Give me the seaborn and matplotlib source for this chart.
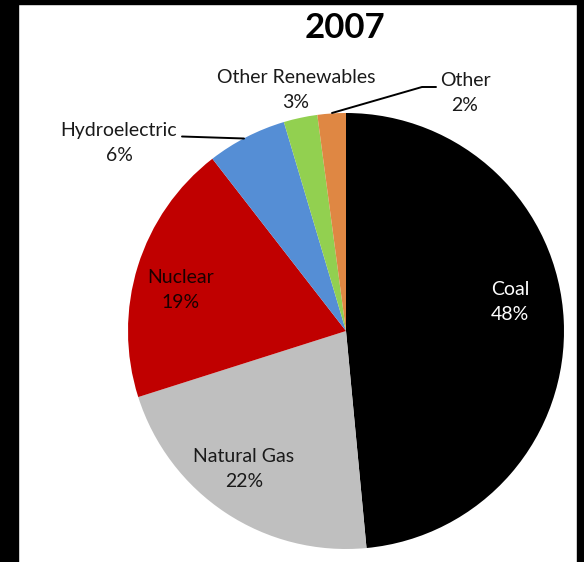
import matplotlib
matplotlib.use("Agg")
import matplotlib.pyplot as plt
from matplotlib.patches import Rectangle
import seaborn as sns

# ---- data ----
title = "2007"
categories = ["Coal", "Natural Gas", "Nuclear", "Hydroelectric", "Other Renewables", "Other"]
shares = [48.5, 21.6, 19.4, 5.9, 2.5, 2.1]
pct_labels = ["48%", "22%", "19%", "6%", "3%", "2%"]

# ---- style ----
sns.set_theme(style="white")
plt.rcParams["font.family"] = ["Lato", "DejaVu Sans"]

colors = ["#000000", "#BFBFBF", "#C00000", "#558ED5", "#92D050", "#DF8743"]
text_colors = ["white", "#1a1a1a", "#1a0000", "#1a1a1a", "#1a1a1a", "#1a1a1a"]

W, H = 584, 562
fig = plt.figure(figsize=(W / 100, H / 100), dpi=100)
fig.patch.set_facecolor("white")
ax = fig.add_axes([0, 0, 1, 1])

def Y(y):
    return H - y

cx, cy, r = 346, 331, 218
ax.pie(shares, colors=colors, startangle=90, counterclock=False,
       center=(cx, Y(cy)), radius=r, wedgeprops=dict(linewidth=0))
ax.set_xlim(0, W)
ax.set_ylim(0, H)
ax.set_aspect("auto")
ax.axis("off")

# label positions (pixel layout, y down)
label_pos = [(510, 302), (244, 469), (181, 290), (119, 143), (296, 90), (465, 93)]
for name, pct, (x, y), tc in zip(categories, pct_labels, label_pos, text_colors):
    ax.text(x, Y(y), f"{name}\n{pct}", ha="center", va="center", fontsize=14,
            color=tc, linespacing=1.55)

# leader lines
ax.plot([182, 244], [Y(136.5), Y(138.5)], color="black", lw=1.4)
ax.plot([332, 422, 436], [Y(113), Y(87), Y(87)], color="black", lw=1.4)

# title
ax.text(345, Y(28), title, ha="center", va="center", fontsize=25, fontweight="bold", color="black")

# black frame bands
for (x0, y0, w, h) in [(0, 0, 18, H), (0, 0, W, 4), (577, 0, 7, H)]:
    fig.patches.append(Rectangle((x0 / W, 1 - (y0 + h) / H), w / W, h / H,
                                 transform=fig.transFigure, color="black", zorder=10))

fig.savefig("out.png", dpi=100)
